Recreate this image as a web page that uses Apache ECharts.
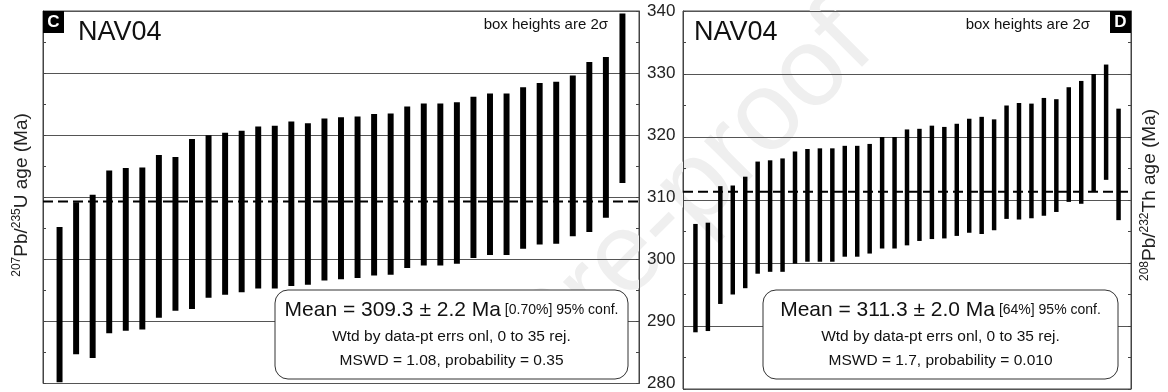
<!DOCTYPE html>
<html>
<head>
<meta charset="utf-8">
<script src="https://cdn.jsdelivr.net/npm/echarts@6/dist/echarts.min.js"></script>
<style>
  html, body { margin: 0; padding: 0; background: #fff; }
  #chart { width: 1168px; height: 392px; }
</style>
</head>
<body>
<div id="chart"></div>
<script>
// 2σ boxes, low and high ends (Ma)
var loC = [280.2, 284.7, 284.1, 288.1, 288.5, 288.7, 290.6, 291.7, 292.0, 293.8,
           294.3, 294.7, 295.3, 295.3, 295.7, 295.9, 296.6, 296.8, 297.0, 297.4,
           297.5, 298.6, 299.0, 299.0, 299.3, 300.2, 300.7, 300.7, 301.7, 302.4,
           302.5, 303.7, 304.4, 306.7, 312.3];
var hiC = [305.2, 309.2, 310.4, 314.3, 314.7, 314.8, 316.8, 316.5, 319.4, 320.0,
           320.4, 320.7, 321.4, 321.5, 322.2, 321.9, 322.7, 322.9, 323.0, 323.4,
           323.5, 324.6, 325.1, 325.1, 325.3, 326.2, 326.7, 326.7, 327.7, 328.4,
           328.6, 329.6, 331.8, 332.6, 339.6];
var loD = [289.0, 289.2, 293.5, 295.0, 296.0, 298.3, 298.6, 298.6, 299.9, 300.2,
           300.2, 300.2, 301.0, 301.0, 301.5, 302.3, 302.3, 302.8, 303.5, 303.8,
           303.9, 304.3, 304.8, 304.6, 305.2, 307.0, 306.9, 307.1, 307.5, 308.1,
           309.7, 309.4, 311.3, 313.2, 306.8];
var hiD = [306.2, 306.4, 312.2, 312.3, 313.7, 316.1, 316.3, 316.6, 317.7, 318.1,
           318.2, 318.2, 318.6, 318.6, 318.9, 320.0, 320.0, 321.2, 321.3, 321.8,
           321.6, 322.1, 322.9, 323.2, 322.8, 325.0, 325.4, 325.3, 326.2, 326.0,
           327.9, 328.9, 330.0, 331.5, 324.5];
var meanC = 309.3;
var meanD = 311.3;
var yMin = 280, yMax = 340;

var chart = echarts.init(document.getElementById('chart'));

function toBoxes(lo, hi) {
    var out = [];
    for (var i = 0; i < lo.length; i++) {
        out.push([i + 1, lo[i], hi[i]]);
    }
    return out;
}

function renderBox(params, api) {
    var x = api.value(0);
    var a = api.coord([x, api.value(1)]);
    var b = api.coord([x, api.value(2)]);
    var w = api.size([1, 0])[0] * 0.36;
    return {
        type: 'rect',
        shape: { x: a[0] - w / 2, y: b[1], width: w, height: a[1] - b[1] },
        style: { fill: '#000' }
    };
}

function yAx(grid, pos, labels, split) {
    return {
        type: 'value', gridIndex: grid, position: pos,
        min: yMin, max: yMax, interval: 10,
        axisLine: { show: true, lineStyle: { color: '#444', width: 1 } },
        axisTick: { show: true, inside: true, length: 3, lineStyle: { color: '#444' } },
        minorTick: { show: true, splitNumber: 2, length: 3, lineStyle: { color: '#444' } },
        axisLabel: { show: labels, margin: 8, fontSize: 17, color: '#222', fontFamily: 'Liberation Sans, Arial' },
        splitLine: { show: split, lineStyle: { color: '#555', width: 1 } }
    };
}

function xAx(grid) {
    return {
        type: 'value', gridIndex: grid, min: 0, max: 36,
        axisLine: { show: false }, axisTick: { show: false },
        axisLabel: { show: false }, splitLine: { show: false }
    };
}

function meanLine(idx, m) {
    return {
        type: 'line', xAxisIndex: idx, yAxisIndex: idx * 2, z: 5,
        data: [[0, m], [36, m]], symbol: 'none', silent: true,
        lineStyle: { color: '#000', width: 2, type: [10, 5] }
    };
}

var font = 'Liberation Sans, Arial';

function statBox(x, w, mean, pct, mswd) {
    var cx = x + w / 2;
    return [
        { type: 'rect', z: 20, shape: { x: x, y: 290, width: w, height: 89, r: 13 },
          style: { fill: '#fff', stroke: '#333', lineWidth: 1 } },
        { type: 'text', z: 21, x: cx, y: 310,
          style: { text: '{a|Mean = ' + mean + '} {b|' + pct + '}',
                   align: 'center', verticalAlign: 'middle', fill: '#111', font: '14px ' + font,
                   rich: { a: { fontSize: 21, fontFamily: font, fill: '#111' },
                           b: { fontSize: 14, fontFamily: font, fill: '#111' } } } },
        { type: 'text', z: 21, x: cx, y: 337,
          style: { text: 'Wtd by data-pt errs onl, 0 to 35 rej.', align: 'center', verticalAlign: 'middle',
                   fill: '#111', font: '15.5px ' + font } },
        { type: 'text', z: 21, x: cx, y: 361,
          style: { text: mswd, align: 'center', verticalAlign: 'middle',
                   fill: '#111', font: '15.5px ' + font } }
    ];
}

function tag(x, letter) {
    return [
        { type: 'rect', z: 20, shape: { x: x, y: 11, width: 21, height: 22 }, style: { fill: '#000' } },
        { type: 'text', z: 21, x: x + 10.5, y: 22.5,
          style: { text: letter, align: 'center', verticalAlign: 'middle', fill: '#fff', font: 'bold 17px ' + font } }
    ];
}

function axisTitle(x, text) {
    return {
        type: 'text', z: 21, x: x, y: 195, rotation: Math.PI / 2,
        style: { text: text, align: 'center', verticalAlign: 'middle', fill: '#222',
                 rich: { s: { fontSize: 12, fontFamily: font, fill: '#222', verticalAlign: 'top', lineHeight: 22 },
                         m: { fontSize: 19, fontFamily: font, fill: '#222', lineHeight: 22 } } }
    };
}

var graphics = [
    { type: 'text', z: 0, x: 690, y: 195, rotation: Math.PI / 4,
      style: { text: 'Pre-proof', align: 'center', verticalAlign: 'middle', fill: '#efefef',
               font: '112px ' + font } },
    { type: 'text', z: 21, x: 78, y: 33, style: { text: 'NAV04', verticalAlign: 'middle', fill: '#111', font: '27px ' + font } },
    { type: 'text', z: 21, x: 694, y: 33, style: { text: 'NAV04', verticalAlign: 'middle', fill: '#111', font: '27px ' + font } },
    { type: 'text', z: 21, x: 608, y: 25, style: { text: 'box heights are 2σ', align: 'right', verticalAlign: 'middle', fill: '#111', font: '15px ' + font } },
    { type: 'text', z: 21, x: 1090, y: 25, style: { text: 'box heights are 2σ', align: 'right', verticalAlign: 'middle', fill: '#111', font: '15px ' + font } },
    axisTitle(22, '{s|207}{m|Pb/}{s|235}{m|U age (Ma)}'),
    axisTitle(1150, '{s|208}{m|Pb/}{s|232}{m|Th age (Ma)}')
].concat(tag(43, 'C'), tag(1110, 'D'),
         statBox(275, 353, '309.3 ± 2.2 Ma', '[0.70%] 95% conf.', 'MSWD = 1.08, probability = 0.35'),
         statBox(763, 355, '311.3 ± 2.0 Ma', '[64%] 95% conf.', 'MSWD = 1.7, probability = 0.010'));

var option = {
    backgroundColor: '#fff',
    animation: false,
    grid: [
        { left: 43, top: 11, width: 596, height: 378, show: true, borderColor: '#444', borderWidth: 1, backgroundColor: 'transparent' },
        { left: 683, top: 11, width: 448, height: 378, show: true, borderColor: '#444', borderWidth: 1, backgroundColor: 'transparent' }
    ],
    xAxis: [xAx(0), xAx(1)],
    yAxis: [yAx(0, 'left', false, true), yAx(0, 'right', true, false),
            yAx(1, 'left', false, true), yAx(1, 'right', false, false)],
    series: [
        { type: 'custom', xAxisIndex: 0, yAxisIndex: 0, z: 4, renderItem: renderBox, data: toBoxes(loC, hiC) },
        { type: 'custom', xAxisIndex: 1, yAxisIndex: 2, z: 4, renderItem: renderBox, data: toBoxes(loD, hiD) },
        meanLine(0, meanC),
        meanLine(1, meanD)
    ],
    graphic: graphics
};

chart.setOption(option);
</script>
</body>
</html>
